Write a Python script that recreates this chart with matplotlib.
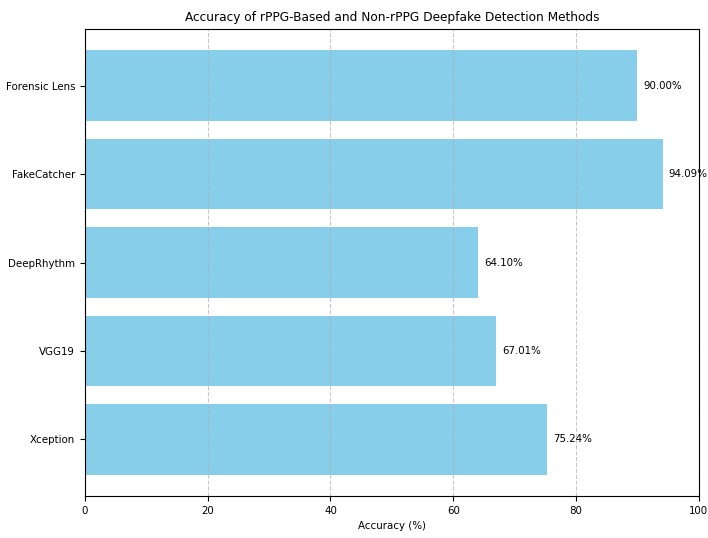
import matplotlib
matplotlib.use("Agg")
import matplotlib.pyplot as plt

methods = ["Xception", "VGG19", "DeepRhythm", "FakeCatcher", "Forensic Lens"]
accuracy = [75.24, 67.01, 64.10, 94.09, 90.00]

plt.rcParams['font.family'] = ['DejaVu Sans']
plt.rcParams['font.stretch'] = 'condensed'

fig = plt.figure(figsize=(7.08, 5.38), dpi=100)
ax = fig.add_axes([0.120, 0.078, 0.867, 0.868])
bars = ax.barh(methods, accuracy, color='skyblue', height=0.8)
for b, v in zip(bars, accuracy):
    ax.text(v + 1, b.get_y() + b.get_height() / 2, f"{v:.2f}%",
            va='center', ha='left', fontsize=8.2)
ax.set_xlim(0, 100)
ax.set_xlabel("Accuracy (%)", fontsize=8.2)
ax.set_title("Accuracy of rPPG-Based and Non-rPPG Deepfake Detection Methods", fontsize=9.7)
ax.tick_params(labelsize=8.2)
ax.grid(axis='x', linestyle='--', alpha=0.7)
fig.savefig("out.png", dpi=100)
